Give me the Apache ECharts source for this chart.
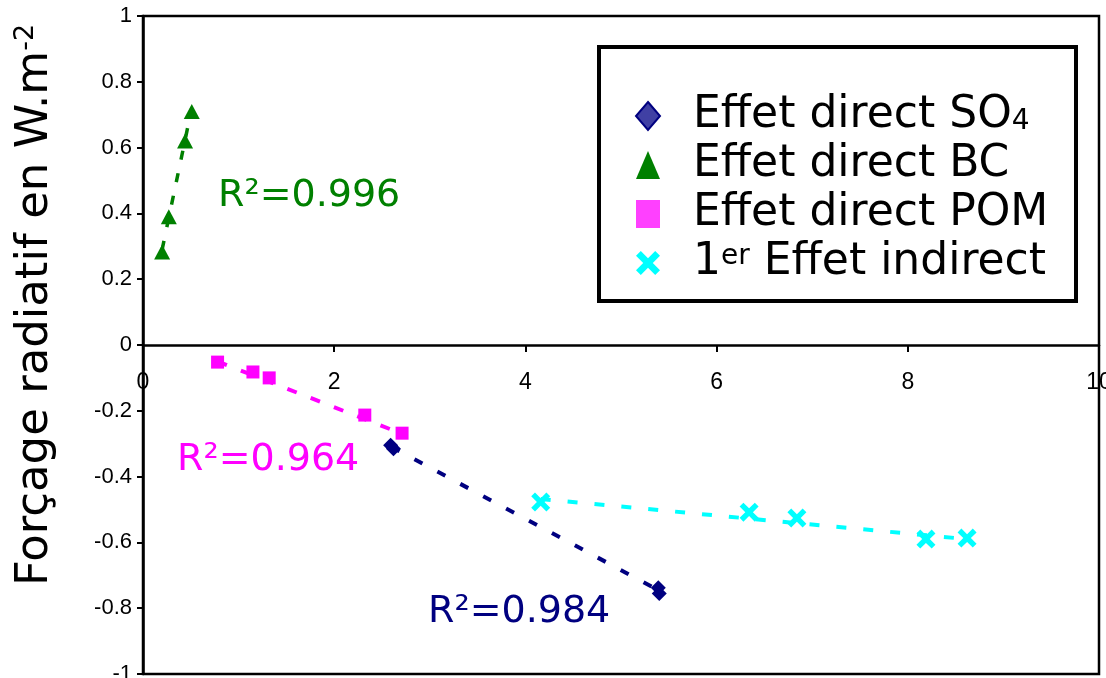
<!DOCTYPE html>
<html>
<head>
<meta charset="utf-8">
<title>Forçage radiatif</title>
<script src="https://cdn.jsdelivr.net/npm/echarts@6/dist/echarts.min.js"></script>
<style>
  html, body { margin: 0; padding: 0; background: #fff; }
  #chart { width: 1106px; height: 678px; }
</style>
</head>
<body>
<div id="chart"></div>
<script>
// Axis ticks
const xTicks = [0, 2, 4, 6, 8, 10];
const yTicks = [-1, -0.8, -0.6, -0.4, -0.2, 0, 0.2, 0.4, 0.6, 0.8, 1];

// Effet direct SO4
const so4X = [2.59, 2.62, 5.39, 5.40];
const so4Y = [-0.305, -0.315, -0.738, -0.755];
// Effet direct BC
const bcX = [0.20, 0.27, 0.44, 0.51];
const bcY = [0.283, 0.39, 0.62, 0.71];
// Effet direct POM
const pomX = [0.78, 1.15, 1.32, 2.32, 2.71];
const pomY = [-0.052, -0.082, -0.10, -0.213, -0.268];
// 1er effet indirect
const indX = [4.16, 6.34, 6.84, 8.19, 8.62];
const indY = [-0.477, -0.508, -0.526, -0.590, -0.587];

// Linear trend lines (end points)
const so4TrendX = [2.6, 5.39];
const so4TrendY = [-0.31, -0.745];
const bcTrendX = [0.2, 0.51];
const bcTrendY = [0.29, 0.72];
const pomTrendX = [0.78, 2.71];
const pomTrendY = [-0.05, -0.27];
const indTrendX = [4.16, 8.62];
const indTrendY = [-0.468, -0.59];

// Coefficients of determination
const r2 = { so4: '0.984', bc: '0.996', pom: '0.964' };

const names = ['Effet direct SO4', 'Effet direct BC', 'Effet direct POM', '1er Effet indirect'];

const pairs = (xs, ys) => xs.map((x, i) => [x, ys[i]]);
const crossPath = 'path://M0,4 L4,0 L10,6 L16,0 L20,4 L14,10 L20,16 L16,20 L10,14 L4,20 L0,16 L6,10 Z';
const handFont = '"DejaVu Sans", sans-serif';
const tickFont = '"Liberation Sans", Arial, sans-serif';

// Plot area
const gridBox = { left: 143, right: 7, top: 16, bottom: 4 };
const plotHeight = 678 - gridBox.top - gridBox.bottom;
// The x axis sits on y = 0: shift it up from the bottom edge by the share of the y range below zero
const zeroShift = plotHeight * (0 - yTicks[0]) / (yTicks[yTicks.length - 1] - yTicks[0]);

function trend(name, xs, ys, color, dash, width) {
  return {
    name: name, type: 'line', data: pairs(xs, ys), showSymbol: false, silent: true, z: 1,
    lineStyle: { color: color, width: width, type: dash }
  };
}

const chart = echarts.init(document.getElementById('chart'), null, { renderer: 'canvas' });

chart.setOption({
  animation: false,
  backgroundColor: '#fff',
  grid: Object.assign({
    show: true, borderColor: '#000', borderWidth: 2.5, backgroundColor: 'transparent',
    containLabel: false, outerBoundsMode: 'none'
  }, gridBox),
  xAxis: {
    type: 'value',
    min: xTicks[0], max: xTicks[xTicks.length - 1], interval: 2,
    position: 'bottom', offset: -zeroShift,
    axisLine: { show: true, onZero: false, lineStyle: { color: '#000', width: 2.5 } },
    axisTick: { show: true, inside: false, length: 7, lineStyle: { color: '#000', width: 2 } },
    axisLabel: { color: '#000', fontFamily: tickFont, fontSize: 23, margin: 26 },
    splitLine: { show: false }
  },
  yAxis: {
    type: 'value',
    min: yTicks[0], max: yTicks[yTicks.length - 1], interval: 0.2,
    axisLine: { show: true, onZero: false, lineStyle: { color: '#000', width: 2.5 } },
    axisTick: { show: true, inside: false, length: 6, lineStyle: { color: '#000', width: 2 } },
    axisLabel: { color: '#000', fontFamily: tickFont, fontSize: 22, margin: 11 },
    splitLine: { show: false }
  },
  legend: {
    orient: 'vertical',
    left: 630, top: 89,
    itemWidth: 24, itemHeight: 28, itemGap: 5,
    selectedMode: false,
    data: [
      { name: names[0], icon: 'diamond', itemStyle: { color: '#4040a4', borderColor: '#000080', borderWidth: 2 } },
      { name: names[1], icon: 'triangle', itemStyle: { color: '#008000' } },
      { name: names[2], icon: 'rect', itemStyle: { color: '#ff40ff' } },
      { name: names[3], icon: crossPath, itemStyle: { color: '#00ffff' } }
    ],
    formatter: function (name) {
      if (name === names[0]) return 'Effet direct SO{sub|4}';
      if (name === names[3]) return '1{sup|er} Effet indirect';
      return name;
    },
    textStyle: {
      color: '#000', fontFamily: handFont, fontSize: 44, lineHeight: 40,
      padding: [0, 0, 0, 28],
      rich: {
        sub: { fontFamily: handFont, fontSize: 28, lineHeight: 24, verticalAlign: 'bottom', color: '#000' },
        sup: { fontFamily: handFont, fontSize: 28, lineHeight: 24, verticalAlign: 'top', color: '#000' }
      }
    }
  },
  graphic: [
    {
      type: 'rect', z: 0,
      shape: { x: 599, y: 47, width: 477, height: 254 },
      style: { fill: '#fff', stroke: '#000', lineWidth: 4 }
    },
    {
      type: 'text', x: 35, y: 305, rotation: Math.PI / 2,
      style: {
        text: 'Forçage radiatif en W.m{sup|-2}',
        fontFamily: handFont, fontSize: 45, lineHeight: 46, fill: '#000',
        align: 'center', verticalAlign: 'middle',
        rich: { sup: { fontFamily: handFont, fontSize: 27, lineHeight: 26, verticalAlign: 'top', fill: '#000' } }
      }
    },
    {
      type: 'text', x: 218, y: 196,
      style: { text: 'R²=' + r2.bc, fontFamily: handFont, fontSize: 38, fill: '#008000', align: 'left', verticalAlign: 'middle' }
    },
    {
      type: 'text', x: 177, y: 460,
      style: { text: 'R²=' + r2.pom, fontFamily: handFont, fontSize: 38, fill: '#ff00ff', align: 'left', verticalAlign: 'middle' }
    },
    {
      type: 'text', x: 428, y: 612,
      style: { text: 'R²=' + r2.so4, fontFamily: handFont, fontSize: 38, fill: '#000080', align: 'left', verticalAlign: 'middle' }
    }
  ],
  series: [
    trend('tendance SO4', so4TrendX, so4TrendY, '#000080', [9, 17], 4),
    trend('tendance BC', bcTrendX, bcTrendY, '#008000', [9, 14], 3.5),
    trend('tendance POM', pomTrendX, pomTrendY, '#ff00ff', [10, 15], 4),
    trend('tendance indirect', indTrendX, indTrendY, '#00ffff', [10, 17], 4),
    {
      name: names[0], type: 'scatter', z: 3, data: pairs(so4X, so4Y),
      symbol: 'diamond', symbolSize: [15, 15],
      itemStyle: { color: '#000080', opacity: 1 }
    },
    {
      name: names[1], type: 'scatter', z: 3, data: pairs(bcX, bcY),
      symbol: 'triangle', symbolSize: [16, 15],
      itemStyle: { color: '#008000', opacity: 1 }
    },
    {
      name: names[2], type: 'scatter', z: 3, data: pairs(pomX, pomY),
      symbol: 'rect', symbolSize: [13, 13],
      itemStyle: { color: '#ff00ff', opacity: 1 }
    },
    {
      name: names[3], type: 'scatter', z: 3, data: pairs(indX, indY),
      symbol: crossPath, symbolSize: [19, 19],
      itemStyle: { color: '#00ffff', opacity: 1 }
    }
  ]
});
</script>
</body>
</html>
